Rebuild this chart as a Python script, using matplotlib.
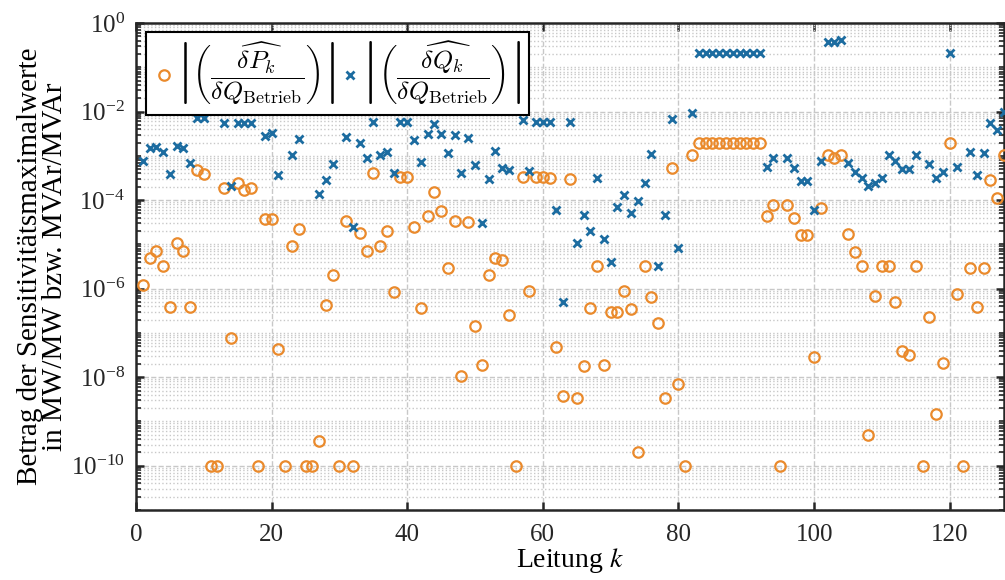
import numpy as np
import matplotlib
matplotlib.use('Agg')
import matplotlib.pyplot as plt
from matplotlib.font_manager import FontProperties
from matplotlib.ticker import FixedLocator, LogFormatterSciNotation, NullFormatter

plt.rcParams['font.family'] = ['Liberation Serif', 'DejaVu Serif']
plt.rcParams['mathtext.fontset'] = 'stix'

# Leitung k = 1..128
leitung = np.arange(1, 129)

# |dP_k / dQ_Betrieb|  (orange Kreise)
sens_p = [
    1.2e-6, 5e-6, 7.1e-6, 3.2e-6, 3.8e-7, 1.07e-5, 7.1e-6, 3.8e-7, 4.7e-4, 3.9e-4,
    1e-10, 1e-10, 1.9e-4, 7.6e-8, 2.4e-4, 1.7e-4, 1.9e-4, 1e-10, 3.7e-5, 3.7e-5,
    4.3e-8, 1e-10, 9e-6, 2.2e-5, 1e-10, 1e-10, 3.7e-10, 4.2e-7, 2e-6, 1e-10,
    3.3e-5, 1e-10, 1.8e-5, 7e-6, 4.2e-4, 9.3e-6, 2e-5, 8.3e-7, 3.4e-4, 3.4e-4,
    2.5e-5, 3.7e-7, 4.3e-5, 1.5e-4, 5.8e-5, 3e-6, 3.3e-5, 1.07e-8, 3.2e-5, 1.4e-7,
    1.9e-8, 2e-6, 5e-6, 4.5e-6, 2.6e-7, 1e-10, 3.4e-4, 8.9e-7, 3.4e-4, 3.4e-4,
    3.1e-4, 4.9e-8, 3.7e-9, 3e-4, 3.3e-9, 1.8e-8, 3.6e-7, 3.3e-6, 1.9e-8, 3e-7,
    3e-7, 8.9e-7, 3.4e-7, 2e-10, 3.2e-6, 6.6e-7, 1.7e-7, 3.3e-9, 5.2e-4, 7.1e-9,
    1e-10, 1.05e-3, 1.9e-3, 1.9e-3, 1.9e-3, 1.9e-3, 1.9e-3, 1.9e-3, 1.9e-3, 1.9e-3,
    1.9e-3, 1.9e-3, 4.4e-5, 7.8e-5, 1e-10, 7.8e-5, 3.9e-5, 1.6e-5, 1.6e-5, 2.8e-8,
    6.6e-5, 1.05e-3, 8.9e-4, 1.05e-3, 1.7e-5, 6.9e-6, 3.2e-6, 5e-10, 7e-7, 3.2e-6,
    3.2e-6, 4.9e-7, 4e-8, 3.1e-8, 3.2e-6, 1e-10, 2.3e-7, 1.5e-9, 2.1e-8, 1.9e-3,
    7.6e-7, 1e-10, 3e-6, 3.8e-7, 3e-6, 2.9e-4, 1.1e-4, 1.05e-3,
]

# |dQ_k / dQ_Betrieb|  (blaue Kreuze), nan = kein Wert
nan = np.nan
sens_q = [
    7.6e-4, 1.5e-3, 1.6e-3, 1.2e-3, 3.8e-4, 1.7e-3, 1.5e-3, 7e-4, 7e-3, 7e-3,
    nan, nan, 5.5e-3, 2.1e-4, 5.5e-3, 5.5e-3, 5.5e-3, nan, 2.8e-3, 3.2e-3,
    3.7e-4, nan, 1.05e-3, 2.4e-3, nan, nan, 1.35e-4, 2.9e-4, 6.6e-4, nan,
    2.6e-3, 2.5e-5, 1.9e-3, 9.1e-4, 5.9e-3, 1.05e-3, 1.25e-3, 4.2e-4, 5.9e-3, 5.9e-3,
    2.3e-3, 7.1e-4, 3.1e-3, 5.3e-3, 3.1e-3, 1.15e-3, 2.9e-3, 4.2e-4, 2.5e-3, 6.2e-4,
    3.1e-5, 3e-4, 1.3e-3, 5.2e-4, 4.8e-4, nan, 6.5e-3, 4.6e-4, 5.9e-3, 5.9e-3,
    5.9e-3, 6e-5, 5e-7, 5.9e-3, 1.1e-5, 4.6e-5, 2e-5, 3.1e-4, 1.3e-5, 4.1e-6,
    7.1e-5, 1.3e-4, 5e-5, 9.6e-5, 2.4e-4, 1.1e-3, 3.3e-6, 4.5e-5, 6.8e-3, 8.2e-6,
    nan, 9.5e-3, 0.21, 0.21, 0.21, 0.21, 0.21, 0.21, 0.21, 0.21,
    0.21, 0.21, 5.7e-4, 8.9e-4, nan, 8.9e-4, 5.2e-4, 2.7e-4, 2.7e-4, 6e-5,
    7.6e-4, 0.38, 0.38, 0.42, 6.8e-4, 4.4e-4, 3.1e-4, 2.1e-4, 2.4e-4, 3.2e-4,
    1.05e-3, 7.8e-4, 5e-4, 5e-4, 1.05e-3, nan, 6.5e-4, 3.1e-4, 4.3e-4, 0.21,
    5.7e-4, nan, 1.2e-3, 3.7e-4, 1.15e-3, 5.5e-3, 3.8e-3, 9.6e-3,
]

x_ticks = [0, 20, 40, 60, 80, 100, 120]
y_major = [1e0, 1e-2, 1e-4, 1e-6, 1e-8, 1e-10]

orange = '#EA8A2C'
blue = '#1C6CA0'

fig = plt.figure(figsize=(10.05, 5.8), dpi=100)
ax = fig.add_axes([0.1353, 0.1207, 0.8637, 0.8396])

lab_p = r'$\left|\left(\dfrac{\widehat{\delta P_k}}{\delta Q_{\mathrm{Betrieb}}}\right)\right|$'
lab_q = r'$\left|\left(\dfrac{\widehat{\delta Q_k}}{\delta Q_{\mathrm{Betrieb}}}\right)\right|$'

ax.plot(leitung, sens_p, linestyle='none', marker='o', markersize=7.5,
        markerfacecolor='none', markeredgecolor=orange, markeredgewidth=1.6,
        label=lab_p, zorder=3)
ax.plot(leitung, sens_q, linestyle='none', marker='x', markersize=6,
        markeredgecolor=blue, markeredgewidth=2.0, label=lab_q, zorder=4)

ax.set_yscale('log')
ax.set_xlim(0, 128)
ax.set_ylim(1e-11, 1e0)

ax.set_xticks(x_ticks)
ax.set_yticks(y_major)
ax.yaxis.set_major_formatter(LogFormatterSciNotation())
minor = []
for d in range(-11, 0):
    for m in range(1, 10):
        v = m * 10.0 ** d
        if m == 1 and d % 2 == 0:
            continue
        minor.append(v)
ax.yaxis.set_minor_locator(FixedLocator(minor))
ax.yaxis.set_minor_formatter(NullFormatter())

ax.grid(which='major', linestyle='--', color='#c8c8c8', linewidth=1.0)
ax.grid(which='minor', axis='y', linestyle=':', color='#c8c8c8', linewidth=1.0)
ax.set_axisbelow(True)

ax.tick_params(which='both', direction='in', top=True, right=True,
               colors='#262626', labelsize=18)
ax.tick_params(which='major', length=6, width=1.8)
ax.tick_params(axis='y', which='major', pad=8)
ax.tick_params(axis='x', which='major', pad=10)
ax.tick_params(which='minor', length=3.5, width=1.2)
for s in ax.spines.values():
    s.set_linewidth(1.8)
    s.set_color('#262626')

ax.set_xlabel(r'Leitung $k$', fontsize=20, labelpad=0)
ax.set_ylabel('Betrag der Sensitivitätsmaximalwerte\nin MW/MW bzw. MVAr/MVAr',
              fontsize=21, linespacing=0.95, labelpad=2)

leg_font = FontProperties(family=['Liberation Serif'], size=18.5, math_fontfamily='cm')
leg = ax.legend(loc='upper left', bbox_to_anchor=(0.0115, 0.9815), borderaxespad=0,
                ncol=2, prop=leg_font, handletextpad=0.05, columnspacing=0.2,
                handlelength=0.8, borderpad=0.3, fancybox=False, framealpha=1,
                edgecolor='black')
leg.get_frame().set_linewidth(1.5)
leg.set_zorder(10)

fig.savefig('out.png', dpi=100)
